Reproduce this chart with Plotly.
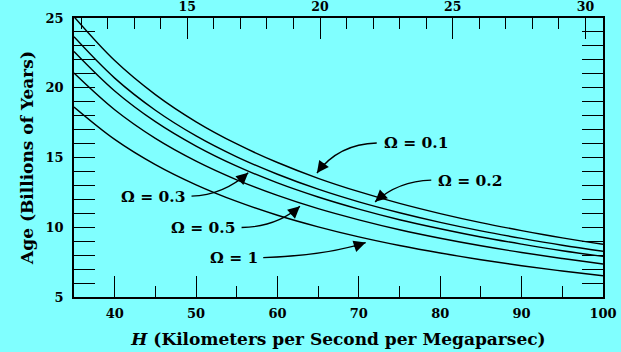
import plotly.graph_objects as go

# ---- data ----
hubble = [35, 40, 45, 50, 55, 60, 65, 70, 75, 80, 85, 90, 95, 100]
age_omega_01 = [25.09, 21.95, 19.51, 17.56, 15.97, 14.64, 13.51, 12.55, 11.71, 10.98, 10.33, 9.76, 9.24, 8.78]
age_omega_02 = [23.65, 20.69, 18.39, 16.55, 15.05, 13.80, 12.73, 11.82, 11.04, 10.35, 9.74, 9.20, 8.71, 8.28]
age_omega_03 = [22.60, 19.77, 17.57, 15.82, 14.38, 13.18, 12.17, 11.30, 10.54, 9.89, 9.30, 8.79, 8.32, 7.91]
age_omega_05 = [21.05, 18.42, 16.37, 14.74, 13.40, 12.28, 11.33, 10.53, 9.82, 9.21, 8.67, 8.19, 7.76, 7.37]
age_omega_1 = [18.62, 16.30, 14.49, 13.04, 11.85, 10.86, 10.03, 9.31, 8.69, 8.15, 7.67, 7.24, 6.86, 6.52]
omega_labels = ["Ω = 0.1", "Ω = 0.2", "Ω = 0.3", "Ω = 0.5", "Ω = 1"]
series = [age_omega_01, age_omega_02, age_omega_03, age_omega_05, age_omega_1]

MPC_PER_MLY = 3.2616  # km/s/Mpc -> km/s/Mly
x_range = [35, 100]
y_range = [5, 25]

BG = "#80ffff"
FONT = "DejaVu Serif"
W, H = 621, 352
M = dict(l=74, r=18, t=18, b=55)
px_per_x = (W - M["l"] - M["r"]) / (x_range[1] - x_range[0])
px_per_y = (H - M["t"] - M["b"]) / (y_range[1] - y_range[0])

fig = go.Figure()
for name, ys in zip(omega_labels, series):
    fig.add_trace(go.Scatter(x=hubble, y=ys, mode="lines", name=name,
                             line=dict(color="black", width=1.4, shape="spline"),
                             showlegend=False, hoverinfo="x+y+name"))

# invisible trace so the top axis (km/s per million light-years) is drawn
fig.add_trace(go.Scatter(x=[h / MPC_PER_MLY for h in hubble], y=age_omega_1, xaxis="x2",
                         mode="lines", line=dict(width=0, color="rgba(0,0,0,0)"),
                         showlegend=False, hoverinfo="skip"))

# label positions: text side, text y, arrow start, control point, arrow tip (data coords)
labels = [
    ("left", 16.04, (72.2, 16.04), (67.5, 15.97), (64.85, 13.88)),
    ("left", 13.38, (78.9, 13.38), (74.8, 13.31), (72.0, 11.82)),
    ("right", 12.23, (49.44, 12.23), (53.33, 12.30), (56.41, 13.91)),
    ("right", 9.98, (55.59, 9.98), (59.9, 10.02), (62.76, 11.50)),
    ("right", 7.82, (58.25, 7.82), (66.05, 7.99), (70.84, 8.90)),
]

shapes = []
annotations = []
labfont = dict(family=FONT, size=15.5, color="black", weight="bold")
for name, (side, ty, s, c, t) in zip(omega_labels, labels):
    shapes.append(dict(type="path", xref="x", yref="y",
                       path=f"M {s[0]},{s[1]} Q {c[0]},{c[1]} {t[0]},{t[1]}",
                       line=dict(color="black", width=1.4)))
    # arrowhead direction in pixels (tangent at the tip of the curve)
    dx = (c[0] - t[0]) * px_per_x
    dy = -(c[1] - t[1]) * px_per_y
    n = (dx * dx + dy * dy) ** 0.5
    L = 14
    annotations.append(dict(x=t[0], y=t[1], ax=dx / n * L, ay=dy / n * L,
                            xref="x", yref="y", text="", showarrow=True,
                            arrowhead=2, arrowsize=1.7, arrowwidth=1.4,
                            arrowcolor="black", standoff=0))
    if side == "right":
        annotations.append(dict(x=s[0] - 0.4, y=ty, xref="x", yref="y", text=name,
                                showarrow=False, xanchor="right", yanchor="middle",
                                font=labfont))
    else:
        annotations.append(dict(x=s[0] + 0.6, y=ty, xref="x", yref="y", text=name,
                                showarrow=False, xanchor="left", yanchor="middle",
                                font=labfont))

tickfont = dict(family=FONT, size=13, color="black", weight="bold")
toptickfont = dict(family=FONT, size=12.5, color="black", weight="bold")
titlefont = dict(family=FONT, size=17, color="black", weight="bold")

fig.update_layout(
    width=W, height=H,
    margin=M,
    paper_bgcolor=BG, plot_bgcolor=BG,
    shapes=shapes, annotations=annotations,
    xaxis=dict(range=x_range, showgrid=False, zeroline=False, automargin=False,
               showline=True, linecolor="black", linewidth=1.5,
               ticks="inside", ticklen=21, tickwidth=1.3, tickcolor="black",
               tick0=0, dtick=10, tickfont=tickfont, ticklabelstandoff=4,
               ticklabeloverflow="allow",
               minor=dict(ticks="inside", ticklen=11, tickwidth=1.3, tickcolor="black",
                          dtick=5, tick0=0, showgrid=False),
               title=dict(text="<i>H</i> (Kilometers per Second per Megaparsec)",
                          font=titlefont, standoff=13)),
    xaxis2=dict(range=[x_range[0] / MPC_PER_MLY, x_range[1] / MPC_PER_MLY],
                overlaying="x", side="top", showgrid=False, zeroline=False, automargin=False,
                showline=True, linecolor="black", linewidth=1.5,
                ticks="inside", ticklen=21, tickwidth=1.3, tickcolor="black",
                tick0=0, dtick=5, tickfont=toptickfont, ticklabelstandoff=0,
                ticklabeloverflow="allow",
                minor=dict(ticks="inside", ticklen=11, tickwidth=1.3, tickcolor="black",
                           dtick=1, tick0=0, showgrid=False)),
    yaxis=dict(range=y_range, showgrid=False, zeroline=False, automargin=False,
               showline=True, linecolor="black", linewidth=1.5, mirror="allticks",
               ticks="inside", ticklen=21, tickwidth=1.3, tickcolor="black",
               tick0=0, dtick=5, tickfont=tickfont, ticklabelstandoff=6,
               minor=dict(ticks="inside", ticklen=11, tickwidth=1.3, tickcolor="black",
                          dtick=1, tick0=0, showgrid=False),
               title=dict(text="Age (Billions of Years)", font=titlefont, standoff=8)),
)

fig.write_html("out.html", config={"displayModeBar": False},
               post_script="document.body.style.margin='0';document.body.style.background='" + BG + "';")
